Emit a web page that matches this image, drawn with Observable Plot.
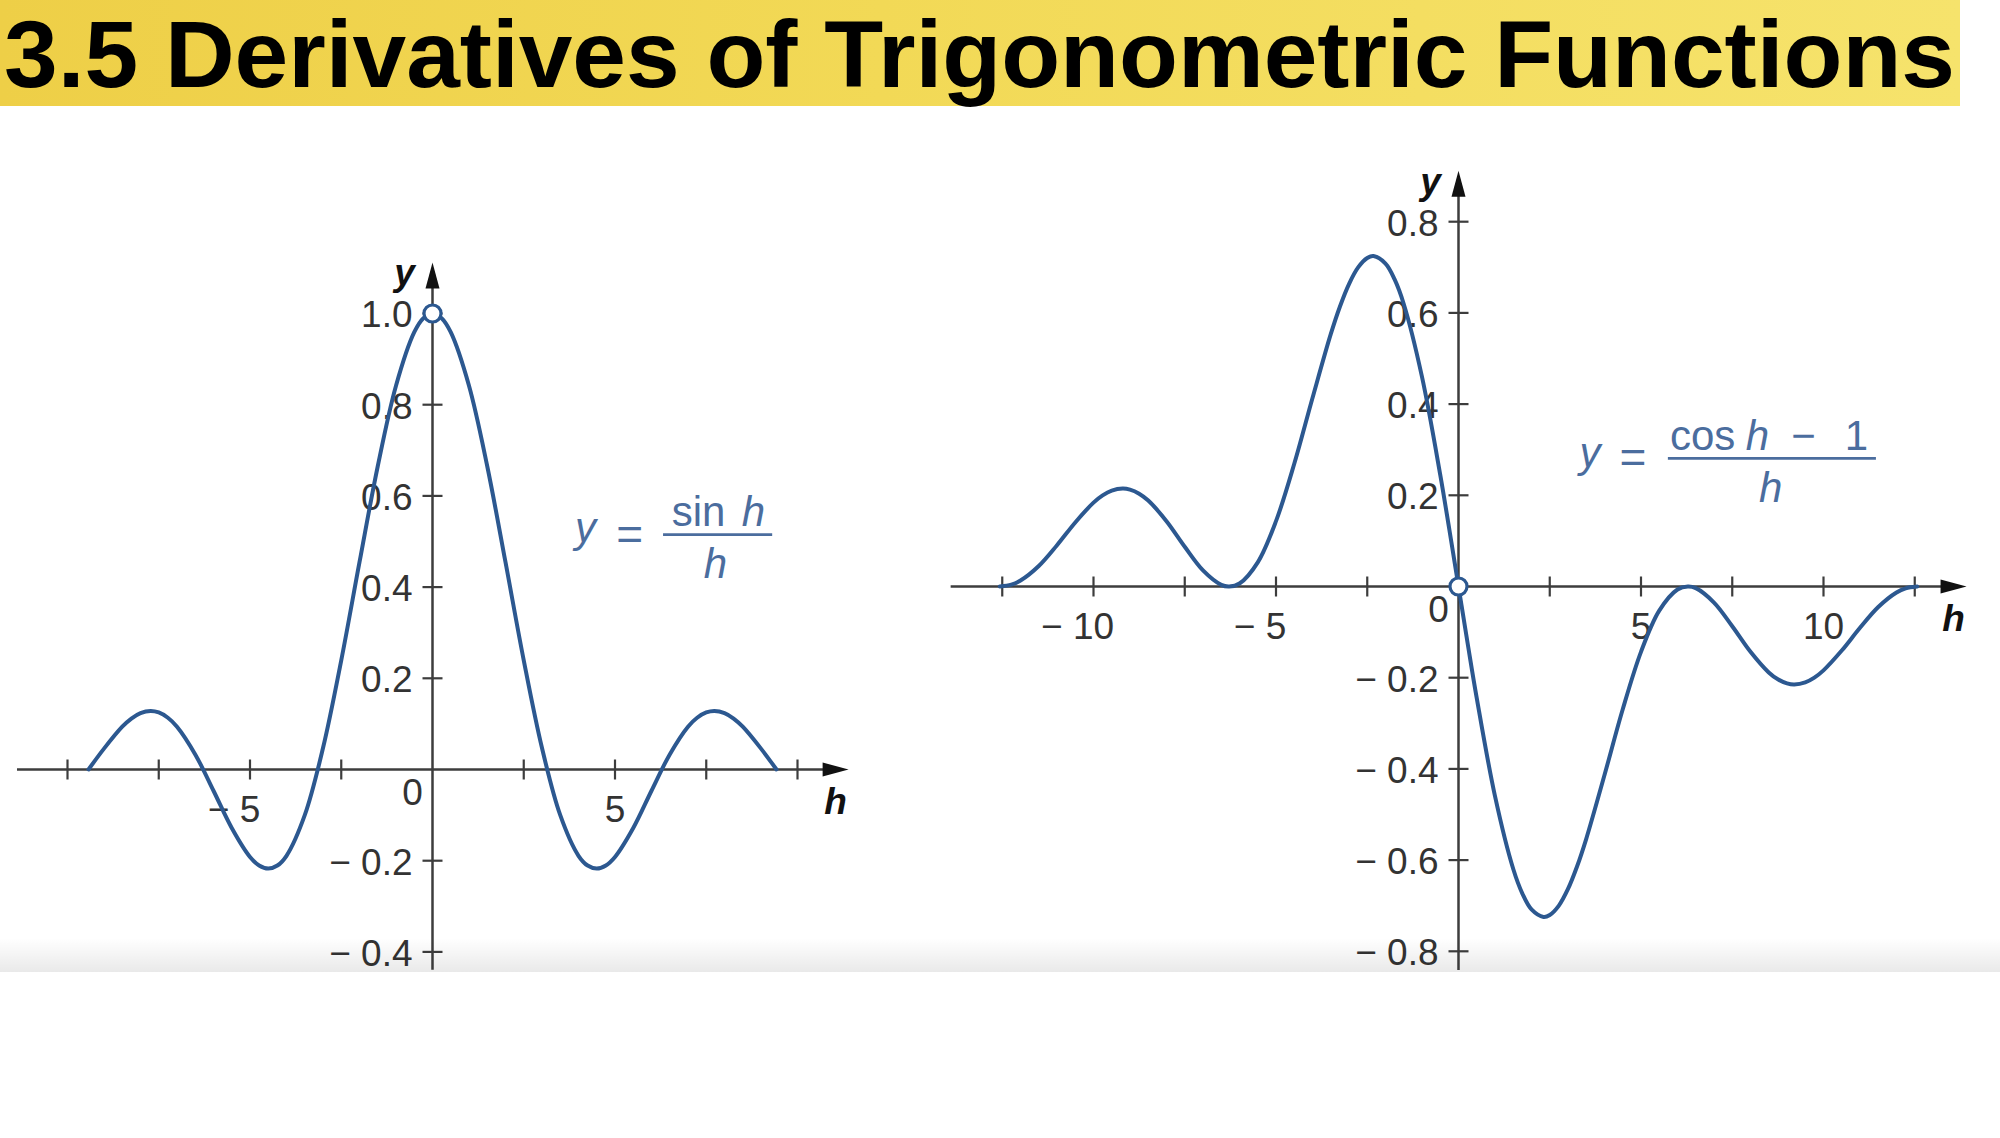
<!DOCTYPE html>
<html>
<head>
<meta charset="utf-8">
<script src="https://cdn.jsdelivr.net/npm/d3@7"></script>
<script src="https://cdn.jsdelivr.net/npm/@observablehq/plot@0.6"></script>
<style>
html, body { margin: 0; padding: 0; background: #fff; }
#page { position: relative; width: 2000px; height: 1138px; overflow: hidden; background: #fff; font-family: "Liberation Sans", Arial, sans-serif; }
#banner { position: absolute; left: 0; top: 0; width: 1960px; height: 106px; background: linear-gradient(90deg, #eecf47 0%, #f2d956 45%, #f6e36c 100%); }
#banner svg { position: absolute; left: 0; top: 0; overflow: visible; }
.chart { position: absolute; left: 0; top: 0; }
#shade { position: absolute; left: 0; top: 938px; width: 2000px; height: 34px; background: linear-gradient(180deg, rgba(0,0,0,0) 0%, rgba(0,0,0,0.085) 100%); }
</style>
</head>
<body>
<div id="page">
  <div id="banner">
    <svg width="1960" height="120"><text x="4" y="87" font-family="Liberation Sans, Arial, sans-serif" font-weight="bold" font-size="95" fill="#000" textLength="1951" lengthAdjust="spacingAndGlyphs">3.5 Derivatives of Trigonometric Functions</text></svg>
  </div>
  <div id="left" class="chart"></div>
  <div id="right" class="chart"></div>
  <div id="shade"></div>
</div>
<script>
// ---------- data: left panel, y = sin h / h ----------
const hLeft = [-9.4248, -9, -8.5, -8.25, -8, -7.725, -7.5, -7.25, -7, -6.5, -6, -5.5, -5, -4.75, -4.5, -4.25, -4, -3.5, -3, -2.5, -2, -1.5, -1, -0.5, -0.25,
  0,
  0.25, 0.5, 1, 1.5, 2, 2.5, 3, 3.5, 4, 4.25, 4.5, 4.75, 5, 5.5, 6, 6.5, 7, 7.25, 7.5, 7.725, 8, 8.25, 8.5, 9, 9.4248];
const yLeft = [0, 0.0458, 0.0939, 0.1118, 0.1237, 0.1284, 0.1251, 0.1135, 0.0939, 0.0331, -0.0466, -0.1283, -0.1918, -0.2104, -0.2172, -0.2106, -0.1892, -0.1002, 0.0470, 0.2394, 0.4546, 0.6650, 0.8415, 0.9589, 0.9896,
  1,
  0.9896, 0.9589, 0.8415, 0.6650, 0.4546, 0.2394, 0.0470, -0.1002, -0.1892, -0.2106, -0.2172, -0.2104, -0.1918, -0.1283, -0.0466, 0.0331, 0.0939, 0.1135, 0.1251, 0.1284, 0.1237, 0.1118, 0.0939, 0.0458, 0];
const xTicksLeft = [-10, -7.5, -5, -2.5, 2.5, 5, 7.5, 10];
const xLabelValuesLeft = [-5, 5];
const xLabelTextLeft = ["\u2212 5", "5"];
const yTicksLeft = [-0.4, -0.2, 0.2, 0.4, 0.6, 0.8, 1.0];
const yLabelTextLeft = ["\u2212 0.4", "\u2212 0.2", "0.2", "0.4", "0.6", "0.8", "1.0"];
const holeLeft = [0, 1];
const formulaTextLeft = ["y", "=", "sin", "h", "h"];

// ---------- data: right panel, y = (cos h − 1) / h ----------
const hRight = [-12.566, -12.25, -12, -11.5, -11, -10.5, -10, -9.75, -9.5, -9.2, -9, -8.75, -8.5, -8, -7.5, -7, -6.5, -6.283, -6, -5.5, -5, -4.5, -4, -3.5, -3.25, -3, -2.75, -2.5, -2.33, -2, -1.75, -1.5, -1, -0.5, -0.25,
  0,
  0.25, 0.5, 1, 1.5, 1.75, 2, 2.33, 2.5, 2.75, 3, 3.25, 3.5, 4, 4.5, 5, 5.5, 6, 6.283, 6.5, 7, 7.5, 8, 8.5, 8.75, 9, 9.2, 9.5, 9.75, 10, 10.5, 11, 11.5, 12, 12.25, 12.566];
const yRight = [0, 0.0040, 0.0130, 0.0449, 0.0905, 0.1405, 0.1839, 0.1998, 0.2102, 0.2147, 0.2123, 0.2035, 0.1885, 0.1432, 0.0871, 0.0352, 0.0036, 0, 0.0066, 0.0530, 0.1433, 0.2691, 0.4134, 0.5533, 0.6136, 0.6633, 0.6997, 0.7204, 0.7246, 0.7081, 0.6733, 0.6195, 0.4597, 0.2448, 0.1244,
  0,
  -0.1244, -0.2448, -0.4597, -0.6195, -0.6733, -0.7081, -0.7246, -0.7204, -0.6997, -0.6633, -0.6136, -0.5533, -0.4134, -0.2691, -0.1433, -0.0530, -0.0066, 0, -0.0036, -0.0352, -0.0871, -0.1432, -0.1885, -0.2035, -0.2123, -0.2147, -0.2102, -0.1998, -0.1839, -0.1405, -0.0905, -0.0449, -0.0130, -0.0040, 0];
const xTicksRight = [-12.5, -10, -7.5, -5, -2.5, 2.5, 5, 7.5, 10, 12.5];
const xLabelValuesRight = [-10, -5, 5, 10];
const xLabelTextRight = ["\u2212 10", "\u2212 5", "5", "10"];
const yTicksRight = [-0.8, -0.6, -0.4, -0.2, 0.2, 0.4, 0.6, 0.8];
const yLabelTextRight = ["\u2212 0.8", "\u2212 0.6", "\u2212 0.4", "\u2212 0.2", "0.2", "0.4", "0.6", "0.8"];
const holeRight = [0, 0];
const formulaTextRight = ["y", "=", "cos", "h", "\u2212", "1", "h"];

// ---------- styles ----------
const CURVE = "#2c5890";
const FORMULA = "#4b6d9e";
const AXIS = "#3d3d3d";
const LABEL = "#333333";
const FONT = "Liberation Sans, Arial, Helvetica, sans-serif";
const FS = 37;
const FFS = 42;

// custom symbols (centred on the data point)
const tickV = {draw(ctx, size) { const r = Math.sqrt(size / Math.PI); ctx.moveTo(0, -r); ctx.lineTo(0, r); }};
const tickH = {draw(ctx, size) { const r = Math.sqrt(size / Math.PI); ctx.moveTo(-r, 0); ctx.lineTo(r, 0); }};
const arrowRight = {draw(ctx, size) { const r = Math.sqrt(size / Math.PI); ctx.moveTo(0, 0); ctx.lineTo(-2.6 * r, -0.7 * r); ctx.lineTo(-2.6 * r, 0.7 * r); ctx.closePath(); }};
const arrowUp = {draw(ctx, size) { const r = Math.sqrt(size / Math.PI); ctx.moveTo(0, 0); ctx.lineTo(-0.7 * r, 2.6 * r); ctx.lineTo(0.7 * r, 2.6 * r); ctx.closePath(); }};

function buildChart(c) {
  const pts = c.h.map((h, i) => ({h, y: c.y[i]}));
  const marks = [];
  // tick labels
  marks.push(Plot.text(c.yTicks, {x: () => 0, y: d => d, text: (d, i) => c.yLabels[i], textAnchor: "end", dx: -20, dy: 2, fontSize: FS, fill: LABEL}));
  marks.push(Plot.text(["0"], {x: () => 0, y: () => 0, text: d => d, dx: -20, dy: 24, fontSize: FS, fill: LABEL}));
  c.xLabelValues.forEach((v, i) => {
    const s = c.xLabelText[i];
    const neg = v < 0;
    const digits = s.replace(/[\u2212 ]/g, "").length;
    marks.push(Plot.text([v], {x: d => d, y: () => 0, text: () => s, textAnchor: neg ? "end" : "middle",
      dx: neg ? digits * 0.278 * FS : 0, dy: 41, fontSize: FS, fill: LABEL}));
  });
  // axes lines, ticks, arrowheads
  marks.push(Plot.ruleY([c.xAxis], {y: () => 0, x1: d => d[0], x2: d => d[1], stroke: AXIS, strokeWidth: 2.5}));
  marks.push(Plot.ruleX([c.yAxis], {x: () => 0, y1: d => d[0], y2: d => d[1], stroke: AXIS, strokeWidth: 2.5}));
  marks.push(Plot.dot(c.xTicks, {x: d => d, y: () => 0, symbol: tickV, r: 10, stroke: AXIS, strokeWidth: 2.2, fill: "none"}));
  marks.push(Plot.dot(c.yTicks, {x: () => 0, y: d => d, symbol: tickH, r: 10, stroke: AXIS, strokeWidth: 2.2, fill: "none"}));
  marks.push(Plot.dot([c.xTip], {x: d => d, y: () => 0, symbol: arrowRight, r: 10, fill: "#111", stroke: "none"}));
  marks.push(Plot.dot([c.yTip], {x: () => 0, y: d => d, symbol: arrowUp, r: 10, fill: "#111", stroke: "none"}));
  // axis names
  marks.push(Plot.text(["y"], {x: () => 0, y: () => c.yTip, text: d => d, dx: -28, dy: 23, lineAnchor: "bottom", fontSize: FS, fontWeight: "bold", fontStyle: "italic", fill: "#111"}));
  marks.push(Plot.text(["h"], {x: () => c.xTip, y: () => 0, text: d => d, dx: -13, dy: 44, lineAnchor: "bottom", fontSize: FS, fontWeight: "bold", fontStyle: "italic", fill: "#111"}));
  // formula
  c.formula.forEach((t, i) => {
    const p = c.formulaPos[i];
    marks.push(Plot.text([t], {x: () => p[0], y: () => p[1], text: d => d, lineAnchor: "bottom",
      fontSize: p[3] || FFS, fontStyle: p[2] ? "italic" : "normal", fill: FORMULA}));
  });
  marks.push(Plot.ruleY([c.bar], {y: d => d[2], x1: d => d[0], x2: d => d[1], stroke: FORMULA, strokeWidth: 2.8}));
  // curve and hole
  marks.push(Plot.line(pts, {x: "h", y: "y", curve: "catmull-rom", stroke: CURVE, strokeWidth: 4}));
  marks.push(Plot.dot([c.hole], {x: d => d[0], y: d => d[1], r: 8.5, fill: "white", stroke: CURVE, strokeWidth: 3.2}));

  return Plot.plot({
    width: 2000, height: 1138, margin: 0,
    x: {type: "linear", domain: [-10, 10], range: c.xRange, axis: null},
    y: {type: "linear", domain: c.yDomain, range: c.yRange, axis: null},
    style: {background: "transparent", overflow: "visible", fontFamily: FONT},
    marks
  });
}

const left = buildChart({
  h: hLeft, y: yLeft, xTicks: xTicksLeft, yTicks: yTicksLeft, yLabels: yLabelTextLeft,
  xLabelValues: xLabelValuesLeft, xLabelText: xLabelTextLeft, hole: holeLeft,
  xRange: [67, 797], yDomain: [0, 1], yRange: [769, 313],
  xAxis: [-11.37, 10.8], xTip: 11.4, yAxis: [-0.44, 1.06], yTip: 1.112,
  formula: formulaTextLeft,
  formulaPos: [[4.19, 0.498, true], [5.40, 0.482, false, 46], [7.29, 0.535, false], [8.79, 0.535, true], [7.75, 0.421, true]],
  bar: [6.33, 9.32, 0.515]
});
document.getElementById("left").appendChild(left);

const right = buildChart({
  h: hRight, y: yRight, xTicks: xTicksRight, yTicks: yTicksRight, yLabels: yLabelTextRight,
  xLabelValues: xLabelValuesRight, xLabelText: xLabelTextRight, hole: holeRight,
  xRange: [1093, 1823], yDomain: [0, 0.8], yRange: [586, 221.2],
  xAxis: [-13.9, 13.3], xTip: 13.92, yAxis: [-0.842, 0.86], yTip: 0.912,
  formula: formulaTextRight,
  formulaPos: [[3.60, 0.263, true], [4.78, 0.248, false, 46], [6.69, 0.300, false], [8.19, 0.300, true], [9.45, 0.300, false], [10.9, 0.300, false], [8.55, 0.186, true]],
  bar: [5.75, 11.45, 0.281]
});
document.getElementById("right").appendChild(right);
</script>
</body>
</html>
